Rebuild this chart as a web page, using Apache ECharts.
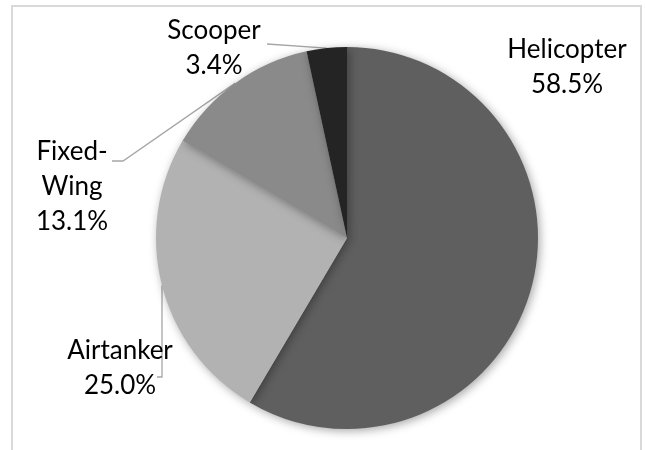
<!DOCTYPE html>
<html>
<head>
<meta charset="utf-8">
<script src="https://cdn.jsdelivr.net/npm/echarts@6/dist/echarts.min.js"></script>
<style>
html,body{margin:0;padding:0;background:#fff;}
#c{width:645px;height:450px;}
</style>
</head>
<body>
<div id="c"></div>
<script>
// ---- data ----
const categories = ['Helicopter', 'Airtanker', 'Fixed-Wing', 'Scooper'];
const labelText = ['Helicopter', 'Airtanker', 'Fixed-\nWing', 'Scooper'];
const shares = [58.5, 25.0, 13.1, 3.4];

// ---- style / layout ----
const colors = ['#5f5f5f', '#b2b2b2', '#8a8a8a', '#242424'];
const CX = 347, CY = 238, R = 191;
// label block centers and leader-line elbows
const labelLayoutCfg = [
  { x: 567, y: 67, line: null },
  { x: 120, y: 368, line: [[162, 377], [157, 377]] },
  { x: 72, y: 187, line: [[123, 161], [112, 161]] },
  { x: 214, y: 48, line: [[267, 44]] }
];

const chart = echarts.init(document.getElementById('c'), null, { renderer: 'canvas' });

const total = shares.reduce((a, b) => a + b, 0);
function edgePoint(i) {
  let cum = 0;
  for (let k = 0; k < i; k++) cum += shares[k];
  const mid = (cum + shares[i] / 2) / total * 2 * Math.PI;
  return [CX + R * Math.sin(mid), CY - R * Math.cos(mid)];
}

chart.setOption({
  backgroundColor: '#ffffff',
  animation: false,
  graphic: [{
    type: 'rect',
    shape: { x: 12, y: 6, width: 629, height: 470 },
    style: { fill: 'none', stroke: '#d9d9d9', lineWidth: 2 },
    silent: true,
    z: -1
  }],
  series: [{
    type: 'pie',
    center: [CX, CY],
    radius: R,
    startAngle: 90,
    clockwise: true,
    avoidLabelOverlap: false,
    itemStyle: {
      borderWidth: 0,
      shadowBlur: 10,
      shadowColor: 'rgba(0,0,0,0.35)',
      shadowOffsetX: 2,
      shadowOffsetY: 2
    },
    label: {
      show: true,
      position: 'outside',
      fontFamily: 'Lato',
      fontSize: 26,
      lineHeight: 35,
      color: '#000000',
      align: 'center',
      formatter: p => labelText[p.dataIndex] + '\n' + p.value.toFixed(1) + '%'
    },
    labelLine: {
      show: true,
      length: 10,
      length2: 10,
      smooth: false,
      lineStyle: { color: '#a6a6a6', width: 1.3 }
    },
    labelLayout: function (params) {
      const i = params.dataIndex;
      const cfg = labelLayoutCfg[i];
      const out = { x: cfg.x, y: cfg.y, align: 'center', verticalAlign: 'middle' };
      if (cfg.line) {
        const start = edgePoint(i);
        out.labelLinePoints = [start].concat(cfg.line).slice(0, 3);
        if (out.labelLinePoints.length === 2) {
          out.labelLinePoints = [start, start, cfg.line[0]];
        }
      }
      return out;
    },
    data: categories.map((name, i) => ({
      name: name,
      value: shares[i],
      itemStyle: { color: colors[i] },
      labelLine: { show: !!labelLayoutCfg[i].line }
    }))
  }]
});
</script>
</body>
</html>
